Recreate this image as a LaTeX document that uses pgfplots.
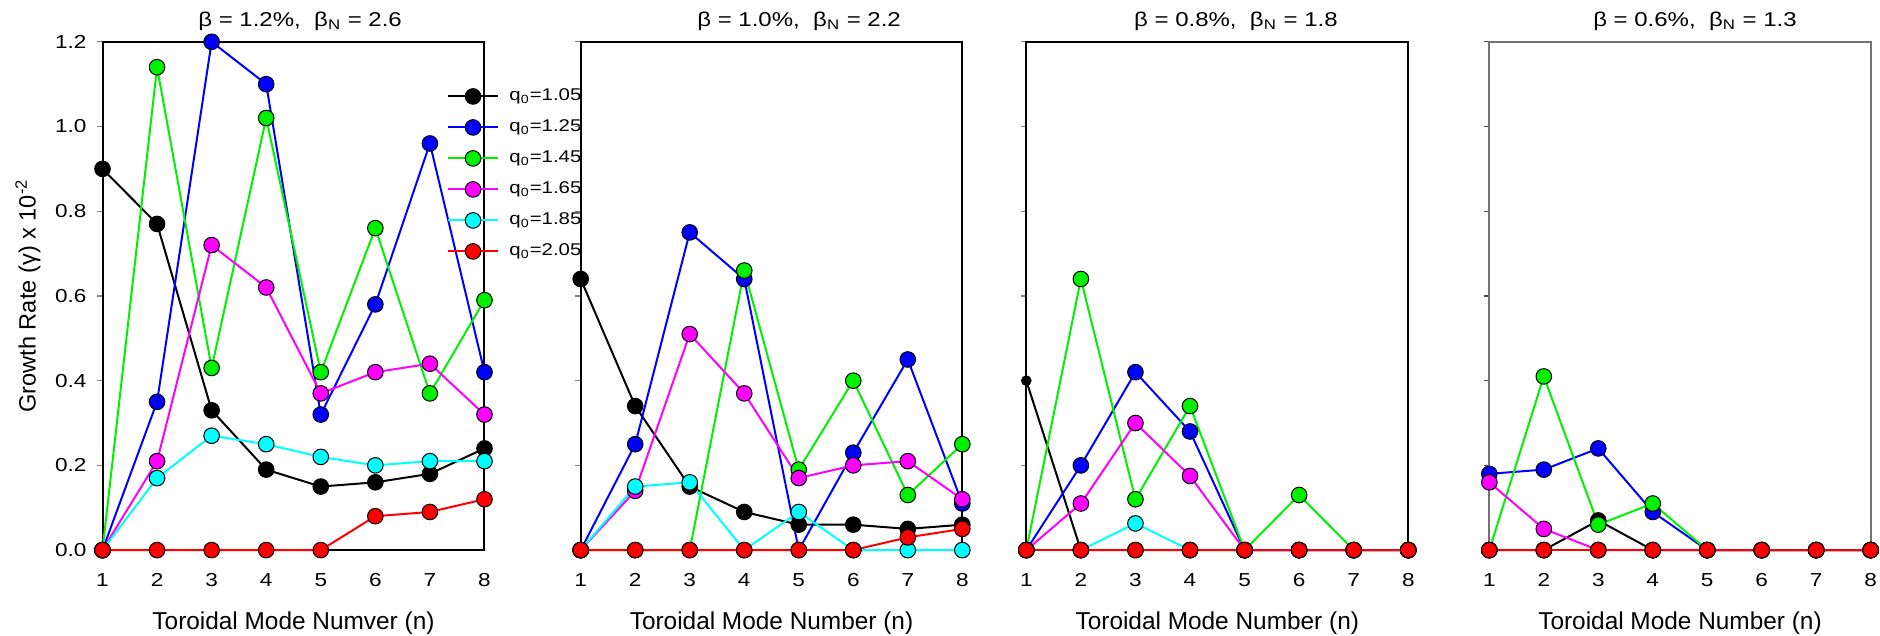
\documentclass[border=0pt]{standalone}
\usepackage{fontspec}
\setmainfont{Liberation Sans}
\newfontfamily\widefont{Liberation Sans}[FakeStretch=1.2]
\usepackage{pgfplots}
\pgfplotsset{compat=1.18}
\definecolor{cblack}{RGB}{0,0,0}
\definecolor{cblue}{RGB}{0,0,255}
\definecolor{cgreen}{RGB}{0,240,0}
\definecolor{cmag}{RGB}{255,0,255}
\definecolor{ccyan}{RGB}{0,255,255}
\definecolor{cred}{RGB}{255,0,0}
\pgfplotsset{
  ser/.style={draw=#1, line width=1pt, mark=*, mark size=3.9pt,
    mark options={solid, fill=#1, draw=black, line width=0.5pt}},
  panel/.style={
    scale only axis, height=254.15pt,
    xmin=1, xmax=8, ymin=0, ymax=1.2,
    xtick={1,2,3,4,5,6,7,8}, ytick={0,0.2,0.4,0.6,0.8,1.0,1.2},
    xtick pos=bottom, ytick pos=left, tick align=outside,
    x tick style={draw=none}, y tick style={line width=0.7pt},
    major tick length=2.85pt,
    axis line style={line width=1pt},
    clip=false,
    /pgf/number format/assume math mode=true,
    tick label style={font=\widefont\fontsize{9.4}{11}\selectfont},
    xticklabel style={yshift=-5.5pt},
    yticklabel style={xshift=-1.6pt, /pgf/number format/.cd, fixed, fixed zerofill, precision=1},
    xlabel style={font=\fontsize{12.2}{14}\selectfont, at={(axis description cs:0.5,0)}, anchor=base, yshift=-39.95pt},
    every axis title/.style={font=\widefont\fontsize{10}{12}\selectfont, at={(axis description cs:0.5,1)}, anchor=base, yshift=7.7pt},
  },
}
\begin{document}
\begin{tikzpicture}
\path[use as bounding box] (0,0) rectangle (940pt,318pt);
% ---------------- Panel 1
\begin{axis}[panel, width=191pt, at={(51.25pt,42.95pt)}, anchor=south west,
  title={β = 1.2\%,\ \ β\textsubscript{N} = 2.6}, title style={xshift=3.3pt},
  xlabel={Toroidal Mode Numver (n)},
  ylabel={Growth Rate (γ) x 10\textsuperscript{-2}},
  ylabel style={font=\fontsize{11.8}{14}\selectfont, at={(axis description cs:-0.195,0.5)}, anchor=center},
  legend style={at={(0.901,0.91)}, anchor=north west, draw=none, fill=none, inner sep=0pt,
    font=\widefont\fontsize{8.5}{10}\selectfont, row sep=7pt,
    nodes={inner sep=0pt, text height=6.5pt, text depth=2pt},
    /tikz/every odd column/.append style={column sep=5.2pt}},
  legend cell align=left,
  legend image code/.code={\draw[mark repeat=2,mark phase=2,#1] plot coordinates {(0pt,0pt) (12.5pt,0pt) (25pt,0pt)};},
]
\addplot[ser=cblack] coordinates {(1,0.90)(2,0.77)(3,0.33)(4,0.19)(5,0.15)(6,0.16)(7,0.18)(8,0.24)};
\addlegendentry{q\textsubscript{0}=1.05}
\addplot[ser=cblue] coordinates {(1,0)(2,0.35)(3,1.20)(4,1.10)(5,0.32)(6,0.58)(7,0.96)(8,0.42)};
\addlegendentry{q\textsubscript{0}=1.25}
\addplot[ser=cgreen] coordinates {(1,0)(2,1.14)(3,0.43)(4,1.02)(5,0.42)(6,0.76)(7,0.37)(8,0.59)};
\addlegendentry{q\textsubscript{0}=1.45}
\addplot[ser=cmag] coordinates {(1,0)(2,0.21)(3,0.72)(4,0.62)(5,0.37)(6,0.42)(7,0.44)(8,0.32)};
\addlegendentry{q\textsubscript{0}=1.65}
\addplot[ser=ccyan] coordinates {(1,0)(2,0.17)(3,0.27)(4,0.25)(5,0.22)(6,0.20)(7,0.21)(8,0.21)};
\addlegendentry{q\textsubscript{0}=1.85}
\addplot[ser=cred] coordinates {(1,0)(2,0)(3,0)(4,0)(5,0)(6,0.08)(7,0.09)(8,0.12)};
\addlegendentry{q\textsubscript{0}=2.05}
\end{axis}
% ---------------- Panel 2
\begin{axis}[panel, width=190.8pt, at={(290.35pt,42.95pt)}, anchor=south west,
  title={β = 1.0\%,\ \ β\textsubscript{N} = 2.2}, title style={xshift=13.8pt},
  xlabel={Toroidal Mode Number (n)}, yticklabels={}]
\addplot[ser=cblack] coordinates {(1,0.64)(2,0.34)(3,0.15)(4,0.09)(5,0.06)(6,0.06)(7,0.05)(8,0.06)};
\addplot[ser=cblue] coordinates {(1,0)(2,0.25)(3,0.75)(4,0.64)(5,0)(6,0.23)(7,0.45)(8,0.11)};
\addplot[ser=cgreen] coordinates {(1,0)(2,0)(3,0)(4,0.66)(5,0.19)(6,0.40)(7,0.13)(8,0.25)};
\addplot[ser=cmag] coordinates {(1,0)(2,0.14)(3,0.51)(4,0.37)(5,0.17)(6,0.20)(7,0.21)(8,0.12)};
\addplot[ser=ccyan] coordinates {(1,0)(2,0.15)(3,0.16)(4,0)(5,0.09)(6,0)(7,0)(8,0)};
\addplot[ser=cred] coordinates {(1,0)(2,0)(3,0)(4,0)(5,0)(6,0)(7,0.03)(8,0.05)};
\end{axis}
% ---------------- Panel 3
\begin{axis}[panel, width=191pt, at={(513.15pt,42.95pt)}, anchor=south west,
  title={β = 0.8\%,\ \ β\textsubscript{N} = 1.8}, title style={xshift=9.3pt},
  xlabel={Toroidal Mode Number (n)}, yticklabels={}]
\addplot[ser=cblack, mark indices={2,3,4,5,6,7,8}] coordinates {(1,0.40)(2,0)(3,0)(4,0)(5,0)(6,0)(7,0)(8,0)};
\addplot[ser=cblack, only marks, mark size=2.4pt] coordinates {(1,0.40)};
\addplot[ser=cblue] coordinates {(1,0)(2,0.20)(3,0.42)(4,0.28)(5,0)(6,0)(7,0)(8,0)};
\addplot[ser=cgreen] coordinates {(1,0)(2,0.64)(3,0.12)(4,0.34)(5,0)(6,0.13)(7,0)(8,0)};
\addplot[ser=cmag] coordinates {(1,0)(2,0.11)(3,0.30)(4,0.175)(5,0)(6,0)(7,0)(8,0)};
\addplot[ser=ccyan] coordinates {(1,0)(2,0)(3,0.063)(4,0)(5,0)(6,0)(7,0)(8,0)};
\addplot[ser=cred] coordinates {(1,0)(2,0)(3,0)(4,0)(5,0)(6,0)(7,0)(8,0)};
\end{axis}
% ---------------- Panel 4
\begin{axis}[panel, width=190.7pt, at={(744.65pt,42.95pt)}, anchor=south west,
  title={β = 0.6\%,\ \ β\textsubscript{N} = 1.3}, title style={xshift=7.5pt},
  xlabel={Toroidal Mode Number (n)}, yticklabels={},
  axis line style={line width=1pt, draw=black!55}, y tick style={draw=black!70}]
\addplot[ser=cblack] coordinates {(1,0)(2,0)(3,0.07)(4,0)(5,0)(6,0)(7,0)(8,0)};
\addplot[ser=cblue] coordinates {(1,0.18)(2,0.19)(3,0.24)(4,0.09)(5,0)(6,0)(7,0)(8,0)};
\addplot[ser=cgreen] coordinates {(1,0)(2,0.41)(3,0.06)(4,0.11)(5,0)(6,0)(7,0)(8,0)};
\addplot[ser=cmag] coordinates {(1,0.16)(2,0.05)(3,0)(4,0)(5,0)(6,0)(7,0)(8,0)};
\addplot[ser=ccyan] coordinates {(1,0)(2,0)(3,0)(4,0)(5,0)(6,0)(7,0)(8,0)};
\addplot[ser=cred] coordinates {(1,0)(2,0)(3,0)(4,0)(5,0)(6,0)(7,0)(8,0)};
\end{axis}
\end{tikzpicture}
\end{document}
